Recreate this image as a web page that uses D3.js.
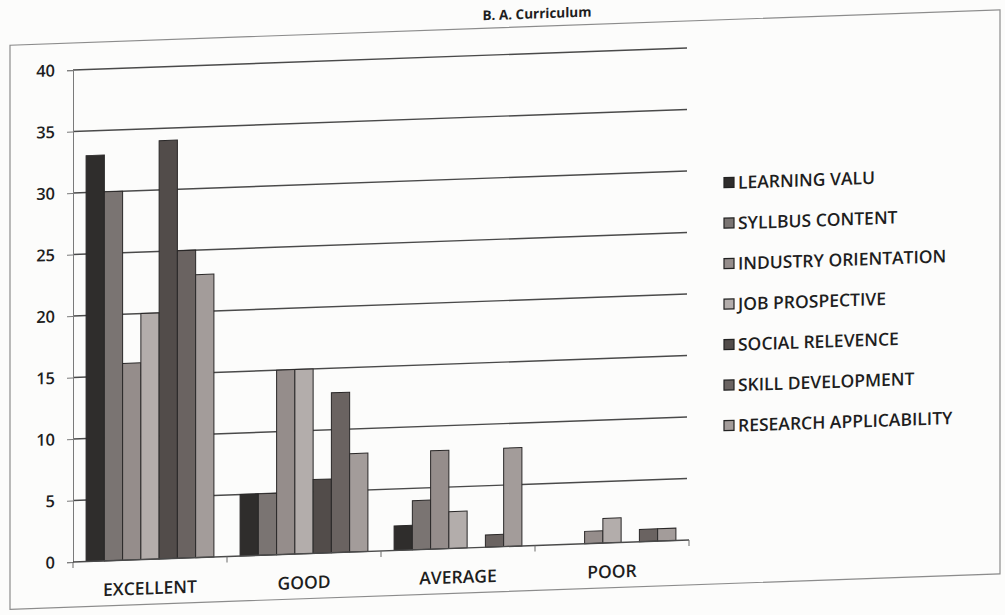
<!DOCTYPE html>
<html>
<head>
<meta charset="utf-8">
<title>B. A. Curriculum</title>
<script src="https://d3js.org/d3.v7.min.js"></script>
<style>
  body { margin:0; background:#fcfcfb; }
  text { font-family: "Open Sans", sans-serif; fill:#1e1e1e; }
  .grid line { stroke:#4a4a4a; stroke-width:1.4px; }
</style>
</head>
<body>
<svg width="1005" height="615"></svg>
<script>
// data
var categories = ["EXCELLENT", "GOOD", "AVERAGE", "POOR"];
var seriesNames = ["LEARNING VALU", "SYLLBUS CONTENT", "INDUSTRY ORIENTATION",
  "JOB PROSPECTIVE", "SOCIAL RELEVENCE", "SKILL DEVELOPMENT", "RESEARCH APPLICABILITY"];
var learning  = [33, 5, 2, 0];
var syllabus  = [30, 5, 4, 0];
var industry  = [16, 15, 8, 1];
var job       = [20, 15, 3, 2];
var social    = [34, 6, 0, 0];
var skill     = [25, 13, 1, 1];
var research  = [23, 8, 8, 1];
var yTicks = [0, 5, 10, 15, 20, 25, 30, 35, 40];

var series = [learning, syllabus, industry, job, social, skill, research];
var colors = ["#2f2d2c", "#7a7472", "#958d8b", "#b3adab", "#524c4a", "#6a6361", "#a39c9a"];

var svg = d3.select("svg");
// the scan is sheared a little: horizontal lines climb to the right
var g = svg.append("g").attr("transform", "translate(73,0) skewY(-2.05) translate(-73,0)");

g.append("rect").attr("x", 10).attr("y", 43).attr("width", 990).attr("height", 564)
  .attr("fill", "none").attr("stroke", "#8c8c8c").attr("stroke-width", 1.2);

g.append("text").attr("x", 537).attr("y", 35).attr("text-anchor", "middle")
  .style("font-size", "13.5px").style("font-weight", 700).text("B. A. Curriculum");

var left = 73, right = 689;
var y = d3.scaleLinear().domain([0, 40]).range([562, 70]);
var x0 = d3.scaleBand().domain(categories).range([left, right]).paddingInner(0.17).paddingOuter(0.085);
var x1 = d3.scaleBand().domain(d3.range(series.length)).range([0, x0.bandwidth()]);

// gridlines
g.append("g").attr("class", "grid").selectAll("line").data(yTicks.slice(1)).enter().append("line")
  .attr("x1", left).attr("x2", right - 2).attr("y1", function(d){ return y(d); }).attr("y2", function(d){ return y(d); });

// y axis
var yAxis = d3.axisLeft(y).tickValues(yTicks).tickSize(6).tickPadding(12);
var ya = g.append("g").attr("transform", "translate(" + left + ",0)").call(yAxis);
ya.select(".domain").attr("stroke", "#7a7a7a");
ya.selectAll(".tick line").attr("stroke", "#7a7a7a");
ya.selectAll("text").style("font-size", "16.5px").style("font-weight", 600).attr("fill", "#2a2a2a");

// bars
var groups = g.append("g").selectAll("g").data(categories).enter().append("g")
  .attr("transform", function(d){ return "translate(" + x0(d) + ",0)"; });
groups.selectAll("rect").data(function(d, ci){
    return series.map(function(s, si){ return {si: si, v: s[ci]}; });
  }).enter().append("rect")
  .attr("x", function(d){ return x1(d.si); })
  .attr("width", x1.bandwidth())
  .attr("y", function(d){ return y(d.v); })
  .attr("height", function(d){ return y(0) - y(d.v); })
  .attr("fill", function(d){ return colors[d.si]; })
  .attr("stroke", "#2a2828").attr("stroke-width", function(d){ return d.v > 0 ? 1 : 0; });

// x axis
var xa = g.append("g").attr("transform", "translate(0," + y(0) + ")");
xa.append("line").attr("x1", left).attr("x2", right).attr("stroke", "#4a4a4a").attr("stroke-width", 1.4);
xa.selectAll(".tk").data(d3.range(categories.length + 1)).enter().append("line")
  .attr("x1", function(i){ return left + i * x0.step(); })
  .attr("x2", function(i){ return left + i * x0.step(); })
  .attr("y1", 0).attr("y2", 6).attr("stroke", "#6a6a6a");
xa.selectAll("text").data(categories).enter().append("text")
  .attr("x", function(d){ return x0(d) + x0.bandwidth() / 2; })
  .attr("y", 35).attr("text-anchor", "middle")
  .style("font-size", "17.5px").style("font-weight", 600).text(function(d){ return d; });

// legend
var lg = g.append("g").selectAll("g").data(seriesNames).enter().append("g")
  .attr("transform", function(d, i){ return "translate(724," + (206 + i * 40.5) + ")"; });
lg.append("rect").attr("x", 0).attr("y", -5).attr("width", 10).attr("height", 10)
  .attr("fill", function(d, i){ return colors[i]; }).attr("stroke", "#222").attr("stroke-width", 1.2);
lg.append("text").attr("x", 14).attr("y", 6.5)
  .style("font-size", "17.5px").style("font-weight", 600).text(function(d){ return d; });
</script>
</body>
</html>
